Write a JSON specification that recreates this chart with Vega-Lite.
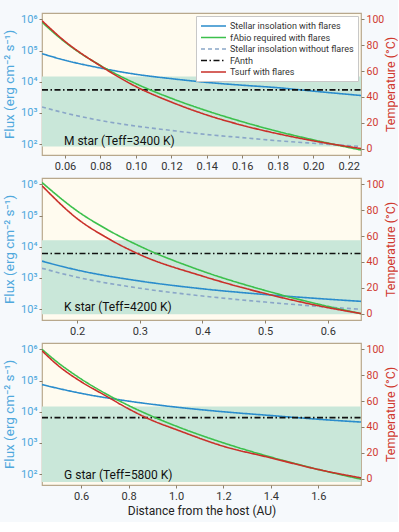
{
  "$schema": "https://vega.github.io/schema/vega-lite/v6.json",
  "background": "#f6f9fc",
  "padding": {"left": 2, "top": 12, "right": 0, "bottom": 5},
  "spacing": 23,
  "bounds": "flush",
  "config": {
    "font": "Roboto",
    "view": {"fill": "#fffbef", "stroke": "#b8a88c", "strokeWidth": 1.2},
    "axis": {"grid": false, "domain": false, "tickColor": "#8c7f6a", "tickSize": 3, "labelFontSize": 11, "titleFontWeight": "normal", "labelPadding": 2, "labelOverlap": false}
  },
  "resolve": {"scale": {"color": "independent", "strokeDash": "independent"}},
  "vconcat": [
    {
      "width": 319, "height": 142,
      "layer": [
        {"layer": [
          {"data": {"values": [{"d": 0.047, "d2": 0.227, "flux": 85, "flux2": 14800}]},
           "mark": {"type": "rect", "color": "#c9e7d9"},
           "encoding": {
             "x": {"field": "d", "type": "quantitative", "scale": {"domain": [0.047, 0.227], "nice": false, "zero": false}, "axis": {"title": null, "values": [0.06, 0.08, 0.1, 0.12, 0.14, 0.16, 0.18, 0.2, 0.22], "format": ".2f", "labelColor": "#333", "labelOverlap": false}},
             "x2": {"field": "d2"},
             "y": {"field": "flux", "type": "quantitative", "scale": {"type": "log", "domain": [45, 1600000], "nice": false}, "axis": {"title": "Flux (erg cm⁻² s⁻¹)", "values": [100, 1000, 10000, 100000, 1000000], "labelExpr": "'10' + ['⁰','¹','²','³','⁴','⁵','⁶'][round(log(datum.value)/LN10)]", "labelColor": "#4fa8dc", "titleColor": "#4fa8dc", "titleFontSize": 13.5, "titlePadding": 4, "labelOverlap": false}},
             "y2": {"field": "flux2"}
           }},
          {"data": {"values": [
            {"series": "Stellar insolation without flares", "d": 0.047, "flux": 1549},
            {"series": "Stellar insolation without flares", "d": 0.06, "flux": 1000},
            {"series": "Stellar insolation without flares", "d": 0.08, "flux": 575},
            {"series": "Stellar insolation without flares", "d": 0.10, "flux": 380},
            {"series": "Stellar insolation without flares", "d": 0.12, "flux": 275},
            {"series": "Stellar insolation without flares", "d": 0.14, "flux": 204},
            {"series": "Stellar insolation without flares", "d": 0.16, "flux": 162},
            {"series": "Stellar insolation without flares", "d": 0.18, "flux": 129},
            {"series": "Stellar insolation without flares", "d": 0.20, "flux": 107},
            {"series": "Stellar insolation without flares", "d": 0.227, "flux": 85},
            {"series": "Stellar insolation with flares", "d": 0.047, "flux": 79433},
            {"series": "Stellar insolation with flares", "d": 0.06, "flux": 48978},
            {"series": "Stellar insolation with flares", "d": 0.08, "flux": 27542},
            {"series": "Stellar insolation with flares", "d": 0.10, "flux": 17378},
            {"series": "Stellar insolation with flares", "d": 0.12, "flux": 12589},
            {"series": "Stellar insolation with flares", "d": 0.14, "flux": 9550},
            {"series": "Stellar insolation with flares", "d": 0.16, "flux": 7762},
            {"series": "Stellar insolation with flares", "d": 0.18, "flux": 6457},
            {"series": "Stellar insolation with flares", "d": 0.20, "flux": 5012},
            {"series": "Stellar insolation with flares", "d": 0.227, "flux": 3631},
            {"series": "FAnth", "d": 0.047, "flux": 5500},
            {"series": "FAnth", "d": 0.227, "flux": 5500},
            {"series": "fAbio required with flares", "d": 0.047, "flux": 812831},
            {"series": "fAbio required with flares", "d": 0.06, "flux": 186209},
            {"series": "fAbio required with flares", "d": 0.08, "flux": 33113},
            {"series": "fAbio required with flares", "d": 0.10, "flux": 8710},
            {"series": "fAbio required with flares", "d": 0.12, "flux": 2951},
            {"series": "fAbio required with flares", "d": 0.14, "flux": 1175},
            {"series": "fAbio required with flares", "d": 0.16, "flux": 525},
            {"series": "fAbio required with flares", "d": 0.18, "flux": 257},
            {"series": "fAbio required with flares", "d": 0.20, "flux": 138},
            {"series": "fAbio required with flares", "d": 0.227, "flux": 65}
           ]},
           "mark": {"type": "line", "strokeWidth": 1.6, "clip": true, "interpolate": "monotone"},
           "encoding": {
             "x": {"field": "d", "type": "quantitative", "axis": {"title": null, "values": [0.06, 0.08, 0.1, 0.12, 0.14, 0.16, 0.18, 0.2, 0.22], "format": ".2f", "labelColor": "#333", "labelOverlap": false}},
             "y": {"field": "flux", "type": "quantitative"},
             "color": {"field": "series", "type": "nominal", "scale": {"domain": ["Stellar insolation with flares", "fAbio required with flares", "Stellar insolation without flares", "FAnth", "Tsurf with flares"], "range": ["#2a8ccc", "#3cc04c", "#8aa6c8", "#111111", "#c9302a"]},
               "legend": {"orient": "top-right", "title": null, "offset": 3, "fillColor": "white", "strokeColor": "#c8c8c8", "padding": 4, "labelFontSize": 9, "labelColor": "#333", "symbolType": "M-1,0H4", "symbolSize": 100, "symbolStrokeWidth": 1.6, "labelOffset": 18, "rowPadding": 0.5, "labelLimit": 200}},
             "strokeDash": {"field": "series", "type": "nominal", "scale": {"domain": ["Stellar insolation with flares", "fAbio required with flares", "Stellar insolation without flares", "FAnth", "Tsurf with flares"], "range": [[1, 0], [1, 0], [4, 3], [6, 2.5, 1.5, 2.5], [1, 0]]},
               "legend": {"orient": "top-right", "title": null}}
           }},
          {"data": {"values": [{"d": 0.0594, "flux": 130, "label": "M star (Teff=3400 K)"}]},
           "mark": {"type": "text", "align": "left", "baseline": "middle", "fontSize": 12, "color": "#111"},
           "encoding": {"x": {"field": "d", "type": "quantitative", "axis": {"title": null, "values": [0.06, 0.08, 0.1, 0.12, 0.14, 0.16, 0.18, 0.2, 0.22], "format": ".2f", "labelColor": "#333", "labelOverlap": false}}, "y": {"field": "flux", "type": "quantitative"}, "text": {"field": "label"}}}
        ]},
        {"data": {"values": [
          {"series": "Tsurf with flares", "d": 0.047, "temp": 99},
          {"series": "Tsurf with flares", "d": 0.06, "temp": 83},
          {"series": "Tsurf with flares", "d": 0.08, "temp": 64},
          {"series": "Tsurf with flares", "d": 0.10, "temp": 48},
          {"series": "Tsurf with flares", "d": 0.12, "temp": 36},
          {"series": "Tsurf with flares", "d": 0.14, "temp": 26},
          {"series": "Tsurf with flares", "d": 0.16, "temp": 18},
          {"series": "Tsurf with flares", "d": 0.18, "temp": 11.5},
          {"series": "Tsurf with flares", "d": 0.20, "temp": 6},
          {"series": "Tsurf with flares", "d": 0.227, "temp": 0}
         ]},
         "mark": {"type": "line", "strokeWidth": 1.6, "clip": true, "interpolate": "monotone"},
         "encoding": {
           "x": {"field": "d", "type": "quantitative", "axis": {"title": null, "values": [0.06, 0.08, 0.1, 0.12, 0.14, 0.16, 0.18, 0.2, 0.22], "format": ".2f", "labelColor": "#333", "labelOverlap": false}},
           "y": {"field": "temp", "type": "quantitative", "scale": {"domain": [-5, 105], "nice": false}, "axis": {"orient": "right", "title": "Temperature (°C)", "titleAngle": 270, "titleBaseline": "top", "values": [0, 20, 40, 60, 80, 100], "labelColor": "#d0392f", "titleColor": "#d0392f", "labelFontSize": 10.5, "titleFontSize": 12.5, "titlePadding": 1, "labelOverlap": false}},
           "color": {"field": "series", "type": "nominal", "scale": {"domain": ["Stellar insolation with flares", "fAbio required with flares", "Stellar insolation without flares", "FAnth", "Tsurf with flares"], "range": ["#2a8ccc", "#3cc04c", "#8aa6c8", "#111111", "#c9302a"]}},
           "strokeDash": {"field": "series", "type": "nominal", "scale": {"domain": ["Stellar insolation with flares", "fAbio required with flares", "Stellar insolation without flares", "FAnth", "Tsurf with flares"], "range": [[1, 0], [1, 0], [4, 3], [6, 2.5, 1.5, 2.5], [1, 0]]}}
         }}
      ],
      "resolve": {"scale": {"y": "independent"}}
    },
    {
      "width": 319, "height": 142,
      "layer": [
        {"layer": [
          {"data": {"values": [{"d": 0.144, "d2": 0.653, "flux": 69, "flux2": 16200}]},
           "mark": {"type": "rect", "color": "#c9e7d9"},
           "encoding": {
             "x": {"field": "d", "type": "quantitative", "scale": {"domain": [0.144, 0.653], "nice": false, "zero": false}, "axis": {"title": null, "values": [0.2, 0.3, 0.4, 0.5, 0.6], "format": ".1f", "labelColor": "#333", "labelOverlap": false}},
             "x2": {"field": "d2"},
             "y": {"field": "flux", "type": "quantitative", "scale": {"type": "log", "domain": [45, 1600000], "nice": false}, "axis": {"title": "Flux (erg cm⁻² s⁻¹)", "values": [100, 1000, 10000, 100000, 1000000], "labelExpr": "'10' + ['⁰','¹','²','³','⁴','⁵','⁶'][round(log(datum.value)/LN10)]", "labelColor": "#4fa8dc", "titleColor": "#4fa8dc", "titleFontSize": 13.5, "titlePadding": 4, "labelOverlap": false}},
             "y2": {"field": "flux2"}
           }},
          {"data": {"values": [
            {"series": "Stellar insolation without flares", "d": 0.144, "flux": 2042},
            {"series": "Stellar insolation without flares", "d": 0.2, "flux": 1059},
            {"series": "Stellar insolation without flares", "d": 0.3, "flux": 470},
            {"series": "Stellar insolation without flares", "d": 0.4, "flux": 265},
            {"series": "Stellar insolation without flares", "d": 0.5, "flux": 169},
            {"series": "Stellar insolation without flares", "d": 0.6, "flux": 117},
            {"series": "Stellar insolation without flares", "d": 0.653, "flux": 99},
            {"series": "Stellar insolation with flares", "d": 0.144, "flux": 3467},
            {"series": "Stellar insolation with flares", "d": 0.2, "flux": 1799},
            {"series": "Stellar insolation with flares", "d": 0.3, "flux": 798},
            {"series": "Stellar insolation with flares", "d": 0.4, "flux": 450},
            {"series": "Stellar insolation with flares", "d": 0.5, "flux": 295},
            {"series": "Stellar insolation with flares", "d": 0.6, "flux": 209},
            {"series": "Stellar insolation with flares", "d": 0.653, "flux": 178},
            {"series": "FAnth", "d": 0.144, "flux": 6100},
            {"series": "FAnth", "d": 0.653, "flux": 6100},
            {"series": "fAbio required with flares", "d": 0.144, "flux": 1148154},
            {"series": "fAbio required with flares", "d": 0.2, "flux": 141254},
            {"series": "fAbio required with flares", "d": 0.25, "flux": 33884},
            {"series": "fAbio required with flares", "d": 0.3, "flux": 10471},
            {"series": "fAbio required with flares", "d": 0.4, "flux": 1660},
            {"series": "fAbio required with flares", "d": 0.5, "flux": 398},
            {"series": "fAbio required with flares", "d": 0.6, "flux": 123},
            {"series": "fAbio required with flares", "d": 0.653, "flux": 72}
           ]},
           "mark": {"type": "line", "strokeWidth": 1.6, "clip": true, "interpolate": "monotone"},
           "encoding": {
             "x": {"field": "d", "type": "quantitative", "axis": {"title": null, "values": [0.2, 0.3, 0.4, 0.5, 0.6], "format": ".1f", "labelColor": "#333", "labelOverlap": false}},
             "y": {"field": "flux", "type": "quantitative"},
             "color": {"field": "series", "type": "nominal", "scale": {"domain": ["Stellar insolation with flares", "fAbio required with flares", "Stellar insolation without flares", "FAnth", "Tsurf with flares"], "range": ["#2a8ccc", "#3cc04c", "#8aa6c8", "#111111", "#c9302a"]}, "legend": null},
             "strokeDash": {"field": "series", "type": "nominal", "scale": {"domain": ["Stellar insolation with flares", "fAbio required with flares", "Stellar insolation without flares", "FAnth", "Tsurf with flares"], "range": [[1, 0], [1, 0], [4, 3], [6, 2.5, 1.5, 2.5], [1, 0]]}, "legend": null}
           }},
          {"data": {"values": [{"d": 0.179, "flux": 115, "label": "K star (Teff=4200 K)"}]},
           "mark": {"type": "text", "align": "left", "baseline": "middle", "fontSize": 12, "color": "#111"},
           "encoding": {"x": {"field": "d", "type": "quantitative", "axis": {"title": null, "values": [0.2, 0.3, 0.4, 0.5, 0.6], "format": ".1f", "labelColor": "#333", "labelOverlap": false}}, "y": {"field": "flux", "type": "quantitative"}, "text": {"field": "label"}}}
        ]},
        {"data": {"values": [
          {"series": "Tsurf with flares", "d": 0.144, "temp": 99},
          {"series": "Tsurf with flares", "d": 0.2, "temp": 73.6},
          {"series": "Tsurf with flares", "d": 0.25, "temp": 58},
          {"series": "Tsurf with flares", "d": 0.3, "temp": 45.7},
          {"series": "Tsurf with flares", "d": 0.4, "temp": 29},
          {"series": "Tsurf with flares", "d": 0.5, "temp": 15.5},
          {"series": "Tsurf with flares", "d": 0.6, "temp": 4.6},
          {"series": "Tsurf with flares", "d": 0.653, "temp": 0}
         ]},
         "mark": {"type": "line", "strokeWidth": 1.6, "clip": true, "interpolate": "monotone"},
         "encoding": {
           "x": {"field": "d", "type": "quantitative", "axis": {"title": null, "values": [0.2, 0.3, 0.4, 0.5, 0.6], "format": ".1f", "labelColor": "#333", "labelOverlap": false}},
           "y": {"field": "temp", "type": "quantitative", "scale": {"domain": [-5, 105], "nice": false}, "axis": {"orient": "right", "title": "Temperature (°C)", "titleAngle": 270, "titleBaseline": "top", "values": [0, 20, 40, 60, 80, 100], "labelColor": "#d0392f", "titleColor": "#d0392f", "labelFontSize": 10.5, "titleFontSize": 12.5, "titlePadding": 1, "labelOverlap": false}},
           "color": {"field": "series", "type": "nominal", "scale": {"domain": ["Stellar insolation with flares", "fAbio required with flares", "Stellar insolation without flares", "FAnth", "Tsurf with flares"], "range": ["#2a8ccc", "#3cc04c", "#8aa6c8", "#111111", "#c9302a"]}, "legend": null},
           "strokeDash": {"field": "series", "type": "nominal", "scale": {"domain": ["Stellar insolation with flares", "fAbio required with flares", "Stellar insolation without flares", "FAnth", "Tsurf with flares"], "range": [[1, 0], [1, 0], [4, 3], [6, 2.5, 1.5, 2.5], [1, 0]]}, "legend": null}
         }}
      ],
      "resolve": {"scale": {"y": "independent"}}
    },
    {
      "width": 319, "height": 142,
      "layer": [
        {"layer": [
          {"data": {"values": [{"d": 0.435, "d2": 1.78, "flux": 56, "flux2": 14800}]},
           "mark": {"type": "rect", "color": "#c9e7d9"},
           "encoding": {
             "x": {"field": "d", "type": "quantitative", "scale": {"domain": [0.435, 1.78], "nice": false, "zero": false}, "axis": {"title": "Distance from the host (AU)", "titleFontSize": 12, "titleColor": "#222", "values": [0.6, 0.8, 1.0, 1.2, 1.4, 1.6], "format": ".1f", "labelColor": "#333", "labelOverlap": false}},
             "x2": {"field": "d2"},
             "y": {"field": "flux", "type": "quantitative", "scale": {"type": "log", "domain": [45, 1600000], "nice": false}, "axis": {"title": "Flux (erg cm⁻² s⁻¹)", "values": [100, 1000, 10000, 100000, 1000000], "labelExpr": "'10' + ['⁰','¹','²','³','⁴','⁵','⁶'][round(log(datum.value)/LN10)]", "labelColor": "#4fa8dc", "titleColor": "#4fa8dc", "titleFontSize": 13.5, "titlePadding": 4, "labelOverlap": false}},
             "y2": {"field": "flux2"}
           }},
          {"data": {"values": [
            {"series": "Stellar insolation with flares", "d": 0.435, "flux": 74131},
            {"series": "Stellar insolation with flares", "d": 0.6, "flux": 38994},
            {"series": "Stellar insolation with flares", "d": 0.8, "flux": 21928},
            {"series": "Stellar insolation with flares", "d": 1.0, "flux": 14125},
            {"series": "Stellar insolation with flares", "d": 1.2, "flux": 10000},
            {"series": "Stellar insolation with flares", "d": 1.4, "flux": 7586},
            {"series": "Stellar insolation with flares", "d": 1.6, "flux": 5754},
            {"series": "Stellar insolation with flares", "d": 1.78, "flux": 4677},
            {"series": "FAnth", "d": 0.435, "flux": 6500},
            {"series": "FAnth", "d": 1.78, "flux": 6500},
            {"series": "fAbio required with flares", "d": 0.435, "flux": 1000000},
            {"series": "fAbio required with flares", "d": 0.5, "flux": 388150},
            {"series": "fAbio required with flares", "d": 0.6, "flux": 112202},
            {"series": "fAbio required with flares", "d": 0.7, "flux": 39355},
            {"series": "fAbio required with flares", "d": 0.8, "flux": 15885},
            {"series": "fAbio required with flares", "d": 0.9, "flux": 7129},
            {"series": "fAbio required with flares", "d": 1.0, "flux": 3483},
            {"series": "fAbio required with flares", "d": 1.2, "flux": 1007},
            {"series": "fAbio required with flares", "d": 1.4, "flux": 353},
            {"series": "fAbio required with flares", "d": 1.6, "flux": 142},
            {"series": "fAbio required with flares", "d": 1.78, "flux": 69}
           ]},
           "mark": {"type": "line", "strokeWidth": 1.6, "clip": true, "interpolate": "monotone"},
           "encoding": {
             "x": {"field": "d", "type": "quantitative", "axis": {"title": "Distance from the host (AU)", "titleFontSize": 12, "titleColor": "#222", "values": [0.6, 0.8, 1.0, 1.2, 1.4, 1.6], "format": ".1f", "labelColor": "#333", "labelOverlap": false}},
             "y": {"field": "flux", "type": "quantitative"},
             "color": {"field": "series", "type": "nominal", "scale": {"domain": ["Stellar insolation with flares", "fAbio required with flares", "Stellar insolation without flares", "FAnth", "Tsurf with flares"], "range": ["#2a8ccc", "#3cc04c", "#8aa6c8", "#111111", "#c9302a"]}, "legend": null},
             "strokeDash": {"field": "series", "type": "nominal", "scale": {"domain": ["Stellar insolation with flares", "fAbio required with flares", "Stellar insolation without flares", "FAnth", "Tsurf with flares"], "range": [[1, 0], [1, 0], [4, 3], [6, 2.5, 1.5, 2.5], [1, 0]]}, "legend": null}
           }},
          {"data": {"values": [{"d": 0.528, "flux": 95, "label": "G star (Teff=5800 K)"}]},
           "mark": {"type": "text", "align": "left", "baseline": "middle", "fontSize": 12, "color": "#111"},
           "encoding": {"x": {"field": "d", "type": "quantitative", "axis": {"title": "Distance from the host (AU)", "titleFontSize": 12, "titleColor": "#222", "values": [0.6, 0.8, 1.0, 1.2, 1.4, 1.6], "format": ".1f", "labelColor": "#333", "labelOverlap": false}}, "y": {"field": "flux", "type": "quantitative"}, "text": {"field": "label"}}}
        ]},
        {"data": {"values": [
          {"series": "Tsurf with flares", "d": 0.435, "temp": 99},
          {"series": "Tsurf with flares", "d": 0.5, "temp": 88},
          {"series": "Tsurf with flares", "d": 0.6, "temp": 75},
          {"series": "Tsurf with flares", "d": 0.7, "temp": 64.5},
          {"series": "Tsurf with flares", "d": 0.8, "temp": 54},
          {"series": "Tsurf with flares", "d": 0.9, "temp": 45},
          {"series": "Tsurf with flares", "d": 1.0, "temp": 38},
          {"series": "Tsurf with flares", "d": 1.2, "temp": 25},
          {"series": "Tsurf with flares", "d": 1.4, "temp": 16},
          {"series": "Tsurf with flares", "d": 1.6, "temp": 7},
          {"series": "Tsurf with flares", "d": 1.78, "temp": 0.5}
         ]},
         "mark": {"type": "line", "strokeWidth": 1.6, "clip": true, "interpolate": "monotone"},
         "encoding": {
           "x": {"field": "d", "type": "quantitative", "axis": {"title": "Distance from the host (AU)", "titleFontSize": 12, "titleColor": "#222", "values": [0.6, 0.8, 1.0, 1.2, 1.4, 1.6], "format": ".1f", "labelColor": "#333", "labelOverlap": false}},
           "y": {"field": "temp", "type": "quantitative", "scale": {"domain": [-5, 105], "nice": false}, "axis": {"orient": "right", "title": "Temperature (°C)", "titleAngle": 270, "titleBaseline": "top", "values": [0, 20, 40, 60, 80, 100], "labelColor": "#d0392f", "titleColor": "#d0392f", "labelFontSize": 10.5, "titleFontSize": 12.5, "titlePadding": 1, "labelOverlap": false}},
           "color": {"field": "series", "type": "nominal", "scale": {"domain": ["Stellar insolation with flares", "fAbio required with flares", "Stellar insolation without flares", "FAnth", "Tsurf with flares"], "range": ["#2a8ccc", "#3cc04c", "#8aa6c8", "#111111", "#c9302a"]}, "legend": null},
           "strokeDash": {"field": "series", "type": "nominal", "scale": {"domain": ["Stellar insolation with flares", "fAbio required with flares", "Stellar insolation without flares", "FAnth", "Tsurf with flares"], "range": [[1, 0], [1, 0], [4, 3], [6, 2.5, 1.5, 2.5], [1, 0]]}, "legend": null}
         }}
      ],
      "resolve": {"scale": {"y": "independent"}}
    }
  ]
}
